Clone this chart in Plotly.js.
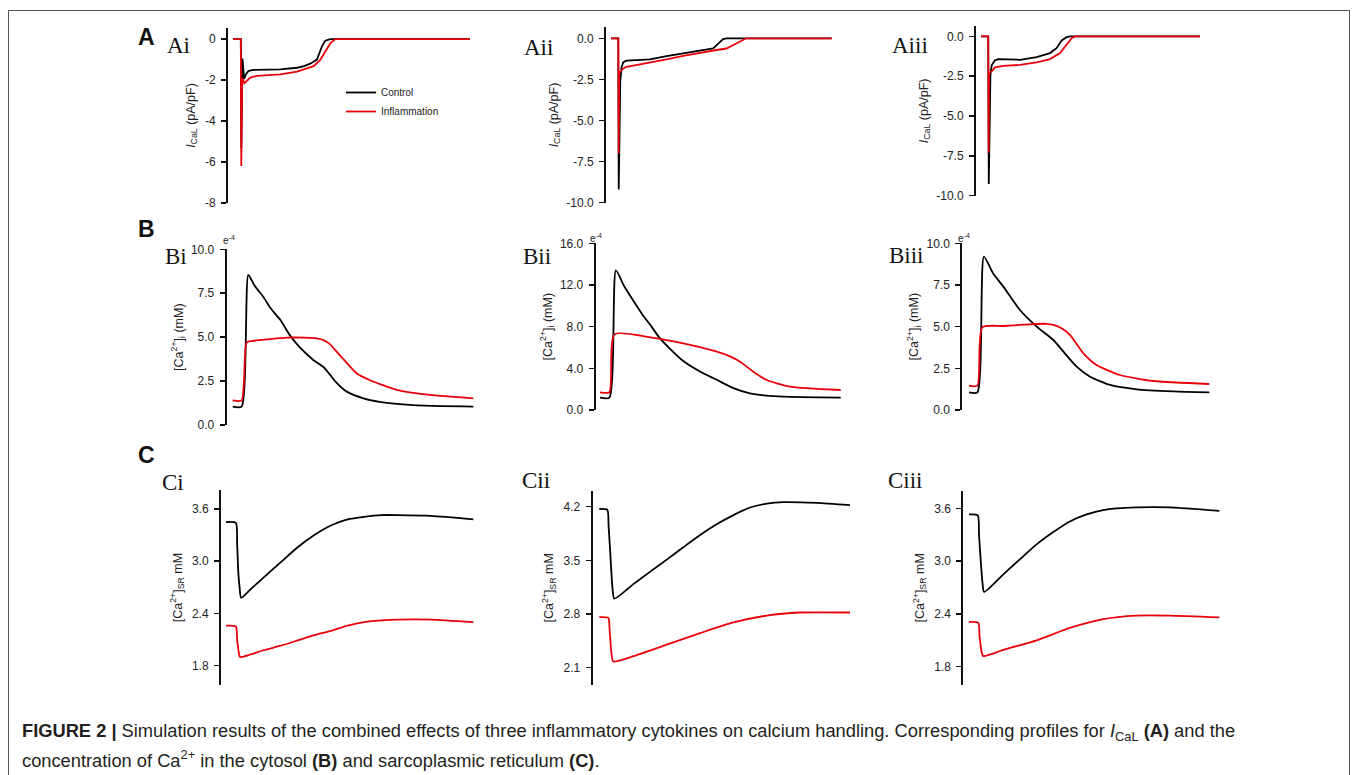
<!DOCTYPE html>
<html>
<head>
<meta charset="utf-8">
<script src="https://cdn.plot.ly/plotly-3.0.1.min.js"></script>
<style>
html,body{margin:0;padding:0;background:#fff;}
#chart{width:1354px;height:775px;}
</style>
</head>
<body>
<div id="chart"></div>
<script>
// ---------- DATA (time in ms) ----------
// Panel A: I_CaL (pA/pF)
const tAiCtrl = [0, 33, 35, 40, 47, 55, 66, 87, 150, 199, 270, 300, 326, 354, 375, 389, 411, 1000];
const vAiCtrl = [0, 0, -5.3, -0.95, -1.95, -1.7, -1.55, -1.5, -1.49, -1.48, -1.4, -1.32, -1.2, -1.0, -0.37, -0.08, 0, 0];
const tAiInfl = [0, 33, 35, 39, 48, 60, 73, 101, 199, 270, 340, 368, 389, 411, 432, 1000];
const vAiInfl = [0, 0, -6.2, -1.9, -2.15, -2.0, -1.88, -1.8, -1.72, -1.59, -1.32, -1.02, -0.62, -0.2, 0, 0];

const tAiiCtrl = [0, 33, 35, 38, 42, 48, 56, 71, 101, 176, 252, 327, 403, 463, 486, 508, 523, 1000];
const vAiiCtrl = [0, 0, -9.2, -5.0, -2.6, -1.75, -1.45, -1.36, -1.35, -1.28, -1.09, -0.92, -0.76, -0.62, -0.32, -0.05, 0, 0];
const tAiiInfl = [0, 33, 35, 37, 41, 56, 71, 176, 252, 327, 403, 478, 523, 553, 583, 613, 1000];
const vAiiInfl = [0, 0, -7.0, -2.2, -2.03, -1.83, -1.73, -1.48, -1.28, -1.07, -0.87, -0.71, -0.62, -0.41, -0.17, 0, 0];

const tAiiiCtrl = [0, 33, 35.5, 39, 43, 49, 64, 79, 178, 254, 315, 345, 368, 391, 406, 1000];
const vAiiiCtrl = [0, 0, -9.26, -4.2, -2.4, -1.8, -1.5, -1.43, -1.47, -1.3, -1.05, -0.74, -0.26, -0.05, 0, 0];
const tAiiiInfl = [0, 33, 35, 37, 49, 64, 102, 178, 254, 315, 361, 391, 414, 429, 1000];
const vAiiiInfl = [0, 0, -7.3, -2.3, -2.2, -1.95, -1.85, -1.79, -1.64, -1.43, -1.05, -0.53, -0.11, 0, 0];

// Panel B: [Ca2+]i (x 1e-4 mM)
const tBiCtrl = [0, 37, 65, 90, 127, 160, 197, 238, 280, 335, 377, 405, 432, 474, 543, 610, 682, 800, 1000];
const vBiCtrl = [1.05, 1.05, 8.55, 7.95, 7.3, 6.6, 6.0, 5.1, 4.4, 3.7, 3.3, 2.85, 2.4, 1.9, 1.52, 1.32, 1.2, 1.1, 1.05];
const tBiInfl = [0, 37, 58, 80, 150, 225, 300, 349, 380, 404, 430, 460, 515, 571, 682, 820, 1000];
const vBiInfl = [1.4, 1.4, 4.7, 4.78, 4.88, 4.97, 4.97, 4.93, 4.82, 4.6, 4.2, 3.75, 2.95, 2.55, 2.0, 1.71, 1.52];

const tBiiCtrl = [0, 39, 66, 100, 138, 175, 208, 245, 290, 346, 415, 485, 554, 623, 690, 762, 1000];
const vBiiCtrl = [1.18, 1.18, 13.4, 11.9, 10.5, 9.2, 8.2, 7.0, 5.9, 4.7, 3.7, 2.9, 2.1, 1.6, 1.38, 1.28, 1.18];
const tBiiInfl = [0, 39, 60, 208, 346, 485, 540, 582, 637, 693, 789, 1000];
const vBiiInfl = [1.7, 1.7, 7.26, 6.98, 6.4, 5.6, 5.15, 4.64, 3.68, 2.88, 2.24, 1.92];

const tBiiiCtrl = [0, 35, 62, 100, 143, 212, 282, 351, 393, 448, 504, 587, 698, 850, 1000];
const vBiiiCtrl = [1.06, 1.06, 9.2, 8.2, 7.4, 6.0, 5.0, 4.2, 3.5, 2.6, 2.0, 1.5, 1.24, 1.12, 1.06];
const tBiiiInfl = [0, 35, 55, 143, 282, 323, 351, 385, 420, 476, 531, 628, 767, 1000];
const vBiiiInfl = [1.46, 1.46, 4.96, 5.04, 5.16, 5.17, 5.1, 4.9, 4.5, 3.4, 2.7, 2.1, 1.74, 1.56];

// Panel C: [Ca2+]SR (mM)
const tCiCtrl = [0, 40, 45, 50, 55, 61, 100, 155, 222, 290, 357, 424, 492, 559, 627, 694, 829, 1000];
const vCiCtrl = [3.45, 3.44, 3.2, 2.86, 2.7, 2.58, 2.68, 2.82, 2.99, 3.16, 3.30, 3.41, 3.48, 3.51, 3.53, 3.53, 3.52, 3.48];
const tCiInfl = [0, 40, 45, 52, 57, 155, 222, 290, 357, 424, 492, 559, 627, 694, 829, 1000];
const vCiInfl = [2.26, 2.25, 2.1, 1.95, 1.90, 1.98, 2.03, 2.09, 2.15, 2.2, 2.26, 2.3, 2.32, 2.33, 2.33, 2.3];

const tCiiCtrl = [0, 32, 37, 43, 53, 60, 136, 202, 269, 335, 402, 468, 535, 601, 668, 734, 867, 1000];
const vCiiCtrl = [4.17, 4.16, 3.95, 3.64, 3.12, 3.0, 3.19, 3.35, 3.51, 3.67, 3.83, 3.97, 4.09, 4.19, 4.24, 4.26, 4.25, 4.22];
const tCiiInfl = [0, 36, 41, 48, 56, 136, 269, 402, 535, 668, 800, 1000];
const vCiiInfl = [2.76, 2.75, 2.6, 2.3, 2.18, 2.25, 2.40, 2.55, 2.69, 2.78, 2.82, 2.82];

const tCiiiCtrl = [0, 35, 40, 47, 54, 60, 137, 203, 270, 337, 403, 470, 536, 669, 802, 1000];
const vCiiiCtrl = [3.53, 3.52, 3.3, 3.0, 2.75, 2.65, 2.85, 3.02, 3.19, 3.33, 3.45, 3.53, 3.58, 3.61, 3.61, 3.57];
const tCiiiInfl = [0, 37, 42, 50, 57, 137, 270, 403, 536, 669, 802, 1000];
const vCiiiInfl = [2.31, 2.30, 2.15, 1.97, 1.92, 1.99, 2.1, 2.24, 2.34, 2.38, 2.38, 2.36];

// Tick labels
const ticksAi = [-8, -6, -4, -2, 0];
const ticksAiLbl = ["-8", "-6", "-4", "-2", "0"];
const ticksA10 = [-10, -7.5, -5, -2.5, 0];
const ticksA10Lbl = ["-10.0", "-7.5", "-5.0", "-2.5", "0.0"];
const ticksB10 = [0, 2.5, 5, 7.5, 10];
const ticksB10Lbl = ["0.0", "2.5", "5.0", "7.5", "10.0"];
const ticksB16 = [0, 4, 8, 12, 16];
const ticksB16Lbl = ["0.0", "4.0", "8.0", "12.0", "16.0"];
const ticksC36 = [1.8, 2.4, 3.0, 3.6];
const ticksC36Lbl = ["1.8", "2.4", "3.0", "3.6"];
const ticksC42 = [2.1, 2.8, 3.5, 4.2];
const ticksC42Lbl = ["2.1", "2.8", "3.5", "4.2"];

const seriesNames = ["Control", "Inflammation"];
const seriesColors = ["#000000", "#e8000b"];

// ---------- LAYOUT ----------
const W = 1354, H = 775;
const titleA = "<i>I</i><sub>CaL</sub> (pA/pF)";
const titleB = "[Ca<sup>2+</sup>]<sub>i</sub> (mM)";
const titleC = "[Ca<sup>2+</sup>]<sub>SR</sub> mM";

// pixel geometry: axis-line x, data start x, data end x, top y, bottom y
const panels = [
  {id:"Ai",   ctrl:[tAiCtrl,vAiCtrl],     infl:[tAiInfl,vAiInfl],     g:[228,233,470,28,203],        yr:[-8,0.54],     tv:ticksAi,  tl:ticksAiLbl, title:titleA, so:7, sh:"linear"},
  {id:"Aii",  ctrl:[tAiiCtrl,vAiiCtrl],   infl:[tAiiInfl,vAiiInfl],   g:[606,611,831.7,27.3,202.7],  yr:[-10,0.67],    tv:ticksA10, tl:ticksA10Lbl, title:titleA, so:5, sh:"linear"},
  {id:"Aiii", ctrl:[tAiiiCtrl,vAiiiCtrl], infl:[tAiiiInfl,vAiiiInfl], g:[976,981,1200,26,195.7],     yr:[-10,0.65],    tv:ticksA10, tl:ticksA10Lbl, title:titleA, so:5, sh:"linear"},
  {id:"Bi",   ctrl:[tBiCtrl,vBiCtrl],     infl:[tBiInfl,vBiInfl],     g:[226.7,232.7,473.3,249.3,425], yr:[0,10],      tv:ticksB10, tl:ticksB10Lbl, title:titleB, so:5, sh:"spline"},
  {id:"Bii",  ctrl:[tBiiCtrl,vBiiCtrl],   infl:[tBiiInfl,vBiiInfl],   g:[595.7,600,840.7,243.3,410], yr:[0,16],        tv:ticksB16, tl:ticksB16Lbl, title:titleB, so:5, sh:"spline"},
  {id:"Biii", ctrl:[tBiiiCtrl,vBiiiCtrl], infl:[tBiiiInfl,vBiiiInfl], g:[962.3,969,1209.3,243.3,410], yr:[0,10],       tv:ticksB10, tl:ticksB10Lbl, title:titleB, so:5, sh:"spline"},
  {id:"Ci",   ctrl:[tCiCtrl,vCiCtrl],     infl:[tCiInfl,vCiInfl],     g:[221,226,473.3,490,685],     yr:[1.578,3.818], tv:ticksC36, tl:ticksC36Lbl, title:titleC, so:7, sh:"spline"},
  {id:"Cii",  ctrl:[tCiiCtrl,vCiiCtrl],   infl:[tCiiInfl,vCiiInfl],   g:[592.7,599.3,850,490.7,685], yr:[1.874,4.409], tv:ticksC42, tl:ticksC42Lbl, title:titleC, so:7, sh:"spline"},
  {id:"Ciii", ctrl:[tCiiiCtrl,vCiiiCtrl], infl:[tCiiiInfl,vCiiiInfl], g:[963.3,969,1219.3,490.7,685], yr:[1.592,3.80], tv:ticksC36, tl:ticksC36Lbl, title:titleC, so:7, sh:"spline"}
];

const FONT = "Liberation Sans, Arial, sans-serif";
const traces = [];
const layout = {
  width: W, height: H,
  margin: {l:0, r:0, t:0, b:0},
  paper_bgcolor: "#fff", plot_bgcolor: "rgba(0,0,0,0)",
  font: {family: FONT, color: "#222", size: 12},
  showlegend: true,
  legend: {x: 341/W, y: 1-78/H, xanchor: "left", yanchor: "top", bgcolor: "rgba(0,0,0,0)",
           font: {size: 10, color: "#222", family: FONT}, tracegroupgap: 0, itemwidth: 30},
  annotations: [], shapes: []
};

panels.forEach((p, i) => {
  const n = i === 0 ? "" : String(i + 1);
  const [ax, ds, de, top, bot] = p.g;
  const pxPerT = (de - ds) / 1000;
  const xEnd = de + 3;
  layout["xaxis" + n] = {
    domain: [ax / W, xEnd / W],
    range: [-(ds - ax) / pxPerT, 1000 + (xEnd - de) / pxPerT],
    visible: false, fixedrange: true, anchor: "y" + n
  };
  layout["yaxis" + n] = {
    domain: [1 - bot / H, 1 - top / H],
    range: p.yr, anchor: "x" + n,
    showline: true, linecolor: "#111", linewidth: 2,
    ticks: "outside", ticklen: 5, tickwidth: 1.5, tickcolor: "#111",
    ticklabelstandoff: 3,
    tickmode: "array", tickvals: p.tv, ticktext: p.tl,
    tickfont: {size: 12, color: "#222", family: FONT},
    showgrid: false, zeroline: false, fixedrange: true,
    title: {text: p.title, standoff: p.so, font: {size: 12.5, color: "#222", family: FONT}}
  };
  [p.ctrl, p.infl].forEach((d, k) => {
    traces.push({
      type: "scatter", mode: "lines",
      x: d[0], y: d[1],
      xaxis: "x" + n, yaxis: "y" + n,
      name: seriesNames[k],
      showlegend: i === 0,
      line: {color: seriesColors[k], width: 1.8, shape: p.sh, smoothing: 0.6},
      hoverinfo: "skip"
    });
  });
});

// Panel letters and sub-panel labels
const ann = layout.annotations;
function pxAnn(text, x, y, opts) {
  ann.push(Object.assign({text: text, xref: "paper", yref: "paper", x: x / W, y: 1 - y / H,
    xanchor: "left", yanchor: "middle", showarrow: false}, opts || {}));
}
const bigFont = {family: FONT, size: 23, color: "#111"};
const serif = {family: "Liberation Serif, Times New Roman, serif", size: 23, color: "#111"};
pxAnn("<b>A</b>", 136, 37, {font: bigFont});
pxAnn("<b>B</b>", 136, 229, {font: bigFont});
pxAnn("<b>C</b>", 136, 455, {font: bigFont});
pxAnn("Ai", 165, 46, {font: serif});
pxAnn("Aii", 522, 47, {font: serif});
pxAnn("Aiii", 890, 45, {font: serif});
pxAnn("Bi", 163, 257, {font: serif});
pxAnn("Bii", 521, 257, {font: serif});
pxAnn("Biii", 887, 255, {font: serif});
pxAnn("Ci", 160, 482, {font: serif});
pxAnn("Cii", 520, 480, {font: serif});
pxAnn("Ciii", 886, 480, {font: serif});

// exponent markers on B panels
const eFont = {family: FONT, size: 10, color: "#222"};
pxAnn("e<sup>-4</sup>", 221, 240, {font: eFont});
pxAnn("e<sup>-4</sup>", 588, 238, {font: eFont});
pxAnn("e<sup>-4</sup>", 956, 238, {font: eFont});

// caption
const capFont = {family: FONT, size: 18.3, color: "#231f20"};
pxAnn("<b>FIGURE 2 |</b> Simulation results of the combined effects of three inflammatory cytokines on calcium handling. Corresponding profiles for <i>I</i><sub>CaL</sub> <b>(A)</b> and the", 20, 732, {font: capFont});
pxAnn("concentration of Ca<sup>2+</sup> in the cytosol <b>(B)</b> and sarcoplasmic reticulum <b>(C)</b>.", 20, 759, {font: capFont});

// frame
layout.shapes.push({type: "rect", xref: "paper", yref: "paper",
  x0: 8.5 / W, x1: 1349.5 / W, y0: -0.05, y1: 1 - 10.5 / H,
  line: {color: "#555", width: 1}, fillcolor: "rgba(0,0,0,0)"});

Plotly.newPlot("chart", traces, layout, {displayModeBar: false, staticPlot: true});
</script>
</body>
</html>
